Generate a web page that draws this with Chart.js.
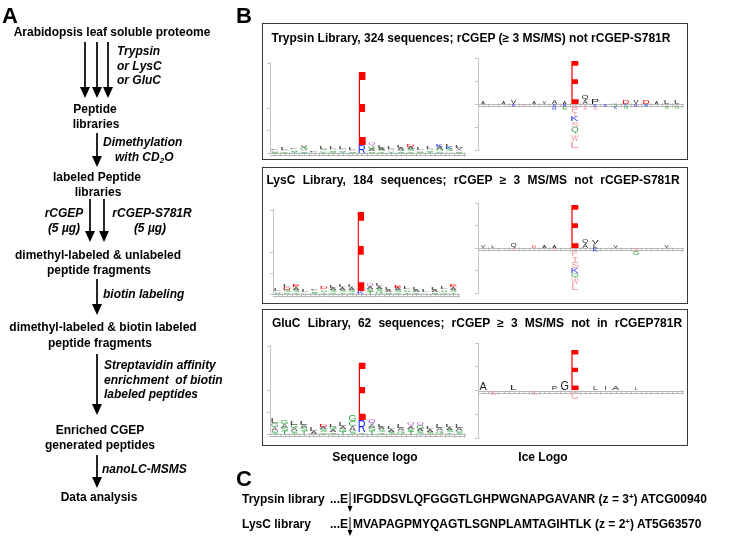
<!DOCTYPE html>
<html>
<head>
<meta charset="utf-8">
<script src="https://cdn.jsdelivr.net/npm/chart.js@4.4.1/dist/chart.umd.min.js"></script>
<style>
  body { margin: 0; background: #fff; }
  #fig { position: relative; width: 731px; height: 540px; overflow: hidden;
         font-family: "Liberation Sans", Arial, sans-serif; font-weight: bold; font-size: 12px; color: #000; }
  .t { position: absolute; white-space: nowrap; line-height: 14px; }
  .c { transform: translateX(-50%); }
  .i { font-style: italic; }
  .lab { font-size: 22px; line-height: 22px; }
  .box { position: absolute; border: 1.5px solid #3a3a3a; box-sizing: border-box; }
  canvas { position: absolute; }
  sub { font-size: 8px; vertical-align: -2px; line-height: 0; }
  sup { font-size: 8px; vertical-align: 4px; line-height: 0; }
</style>
</head>
<body>
<div id="fig">
  <canvas id="arrows" width="731" height="540" style="left:0;top:0"></canvas>

  <!-- panel A -->
  <div class="t lab" style="left:2px;top:5px">A</div>
  <div class="t c" style="left:112px;top:25px">Arabidopsis leaf soluble proteome</div>
  <div class="t i" style="left:117px;top:44px">Trypsin</div>
  <div class="t i" style="left:117px;top:59px">or LysC</div>
  <div class="t i" style="left:117px;top:73px">or GluC</div>
  <div class="t c" style="left:95px;top:102px">Peptide</div>
  <div class="t c" style="left:96px;top:117px">libraries</div>
  <div class="t i" style="left:103px;top:135px">Dimethylation</div>
  <div class="t i" style="left:115px;top:150px">with CD<sub>2</sub>O</div>
  <div class="t c" style="left:97px;top:170px">labeled Peptide</div>
  <div class="t c" style="left:98px;top:185px">libraries</div>
  <div class="t i c" style="left:64px;top:206px">rCGEP</div>
  <div class="t i c" style="left:64px;top:221px">(5 µg)</div>
  <div class="t i c" style="left:152px;top:206px">rCGEP-S781R</div>
  <div class="t i c" style="left:150px;top:221px">(5 µg)</div>
  <div class="t c" style="left:98px;top:248px">dimethyl-labeled &amp; unlabeled</div>
  <div class="t c" style="left:99px;top:263px">peptide fragments</div>
  <div class="t i" style="left:103px;top:287px">biotin labeling</div>
  <div class="t c" style="left:103px;top:320px">dimethyl-labeled &amp; biotin labeled</div>
  <div class="t c" style="left:100px;top:336px">peptide fragments</div>
  <div class="t i" style="left:104px;top:358px">Streptavidin affinity</div>
  <div class="t i" style="left:104px;top:373px">enrichment&nbsp; of biotin</div>
  <div class="t i" style="left:104px;top:387px">labeled peptides</div>
  <div class="t c" style="left:100px;top:423px">Enriched CGEP</div>
  <div class="t c" style="left:100px;top:438px">generated peptides</div>
  <div class="t i" style="left:102px;top:462px">nanoLC-MSMS</div>
  <div class="t c" style="left:99px;top:490px">Data analysis</div>

  <!-- panel B -->
  <div class="t lab" style="left:236px;top:5px">B</div>
  <div class="box" style="left:262px;top:23px;width:426px;height:137px"></div>
  <div class="box" style="left:262px;top:167px;width:426px;height:137px"></div>
  <div class="box" style="left:262px;top:309px;width:426px;height:137px"></div>
  <div class="t c" style="left:471px;top:31px">Trypsin Library, 324 sequences; rCGEP (≥ 3 MS/MS) not rCGEP-S781R</div>
  <div class="t c" style="left:473px;top:173px;word-spacing:4px">LysC Library, 184 sequences; rCGEP ≥ 3 MS/MS not rCGEP-S781R</div>
  <div class="t c" style="left:477px;top:316px;word-spacing:3.8px">GluC Library, 62 sequences; rCGEP ≥ 3 MS/MS not in rCGEP781R</div>
  <canvas id="seq1"></canvas><canvas id="ice1"></canvas>
  <canvas id="seq2"></canvas><canvas id="ice2"></canvas>
  <canvas id="seq3"></canvas><canvas id="ice3"></canvas>
  <div class="t c" style="left:375px;top:450px">Sequence logo</div>
  <div class="t c" style="left:543px;top:450px">Ice Logo</div>

  <!-- panel C -->
  <div class="t lab" style="left:236px;top:468px">C</div>
  <div class="t" style="left:242px;top:492px">Trypsin library</div>
  <div class="t" style="right:383px;top:492px">...E</div>
  <div class="t" style="left:353px;top:492px">IFGDDSVLQFGGGTLGHPWGNAPGAVANR (z = 3<sup>+</sup>) ATCG00940</div>
  <div class="t" style="left:242px;top:517px">LysC library</div>
  <div class="t" style="right:383px;top:517px">...E</div>
  <div class="t" style="left:353px;top:517px">MVAPAGPMYQAGTLSGNPLAMTAGIHTLK (z = 2<sup>+</sup>) AT5G63570</div>
</div>

<script>
// positions P10 ... P10' around the cleavage site
const positions = ["P10","P9","P8","P7","P6","P5","P4","P3","P2","P1",
                   "P1'","P2'","P3'","P4'","P5'","P6'","P7'","P8'","P9'","P10'"];

// sequence logos: letters bottom -> top, heights in bits
const trypsinSeqLetters = ["SAL","GAL","TSAL","SAGV","AL","TASL","GSAL","TSAL","SAL","RE",
                           "SAGQ","GSAL","TAVL","SGAL","GSAD","SAL","TGAL","SGAK","ASKL","SAVL"];
const trypsinSeqBits = [[.06,.06,.06],[.07,.07,.08],[.05,.05,.06,.07],[.07,.07,.08,.1],[.06,.07],
                        [.06,.06,.07,.08],[.06,.06,.07,.08],[.06,.06,.07,.08],[.07,.07,.08],[.36,3.29],
                        [.1,.1,.12,.16],[.07,.08,.09,.12],[.06,.06,.07,.08],[.07,.07,.08,.09],[.08,.08,.09,.1],
                        [.06,.07,.08],[.06,.06,.07,.08],[.08,.08,.09,.1],[.08,.08,.09,.1],[.07,.07,.08,.09]];

const lysCSeqLetters = ["SAL","GSDL","TSAE","AL","GSAL","TSAD","GSAL","TSAL","GSAL","KE",
                        "TSAQ","GSAL","SAL","GSAE","TSAL","GAL","AL","SAL","GSAL","TSAE"];
const lysCSeqBits = [[.07,.08,.09],[.1,.1,.11,.12],[.1,.1,.11,.12],[.09,.1],[.07,.07,.07,.08],
                     [.08,.08,.08,.09],[.09,.09,.1,.1],[.1,.1,.11,.12],[.1,.1,.11,.12],[.14,3.81],
                     [.11,.12,.12,.13],[.12,.13,.13,.14],[.09,.1,.1],[.09,.09,.1,.1],[.08,.08,.08,.09],
                     [.1,.11,.12],[.09,.1],[.09,.1,.1],[.08,.08,.08,.09],[.1,.1,.11,.12]];

const gluCSeqLetters = ["SAGL","TSAG","SAGL","TSAL","AL","GSAD","SAGL","TGAL","SACG","GRE",
                        "TSAQ","GSAL","SAL","GAL","TSAQ","SAGQ","SAL","GAL","TSAL","SAL"];
const gluCSeqBits = [[.15,.16,.17,.2],[.14,.15,.16,.19],[.13,.14,.15,.17],[.13,.14,.15,.17],[.13,.14],
                     [.1,.11,.11,.13],[.1,.11,.11,.13],[.11,.12,.13,.14],[.15,.2,.22,.29],[.09,.55,2.64],
                     [.14,.15,.16,.18],[.1,.11,.11,.13],[.11,.12,.13],[.13,.14,.14],[.11,.12,.13,.14],
                     [.12,.13,.14,.16],[.11,.12,.13],[.13,.14,.14],[.1,.1,.1,.11],[.13,.14,.14]];
const seqTicks = [0, 1, 2, 4];

// ice logos: over-represented (up) and under-represented (down), percent
const trypsinIceUp = ["A","","A","V","","A","V","A","A","E","AQ","P","","","D","V","D","A","L","L"];
const trypsinIceUpPct = [[6],[],[6],[8],[],[6],[6],[8],[6],[98],[8,10],[12],[],[],[10],[8],[10],[6],[10],[10]];
const trypsinIceDown = ["","","","K","S","","","KR","RN","DPTKSQWL","LS","KS","K","NK","KN","K","R","","DN","DN"];
const trypsinIceDownPct = [[],[],[],[-6],[-6],[],[],[-6,-6],[-6,-6],[-8,-10,-8,-12,-12,-15,-15,-15],
                           [-6,-6],[-6,-6],[-6],[-5,-5],[-5,-5],[-6],[-6],[],[-5,-5],[-5,-5]];

const lysCIceUp = ["V","L","","Q","","D","A","A","","E","AQ","LV","","V","","","","","V",""];
const lysCIceUpPct = [[7],[7],[],[10],[],[6],[7],[7],[],[100],[9,9],[9,9],[],[7],[],[],[],[],[7],[]];
const lysCIceDown = ["","","","D","","","","D","","DFTSKQWL","","K","","","","DG","","","",""];
const lysCIceDownPct = [[],[],[],[-6],[],[],[],[-6],[],[-8,-10,-12,-14,-11,-12,-13,-13],
                        [],[-8],[],[],[],[-8,-8],[],[],[],[]];

const gluCIceUp = ["A","","","L","","","","P","G","E","","L","I","A","","L","","","",""];
const gluCIceUpPct = [[17],[],[],[12],[],[],[],[8],[19],[85],[],[8],[8],[10],[],[6],[],[],[],[]];
const gluCIceDown = ["","S","","","","S","","","","C","","","","","","","","","",""];
const gluCIceDownPct = [[],[-10],[],[],[],[-10],[],[],[],[-17],[],[],[],[],[],[],[],[],[],[]];
const iceTicks = [-100, -50, 0, 50, 100];

// where each plot area sits on the page
const areas = {
  seq1: { left: 270, right: 464, top: 62, bottom: 153 },
  seq2: { left: 273, right: 458, top: 209, bottom: 294 },
  seq3: { left: 270, right: 464, top: 345, bottom: 434 },
  ice1: { left: 478, right: 682, top: 58, bottom: 150 },
  ice2: { left: 478, right: 682, top: 203, bottom: 293 },
  ice3: { left: 478, right: 682, top: 343, bottom: 438 }
};

function seqColor(L) {
  if ("DE".includes(L)) return "#ff0000";
  if ("KRH".includes(L)) return "#1a2cf0";
  if ("GSTYC".includes(L)) return "#2fa53f";
  if ("NQ".includes(L)) return "#b04cc0";
  return "#555";
}
function iceColor(L, down) {
  if (!down) return "DE".includes(L) ? "#ff0000" : "#222";
  if ("KRH".includes(L)) return "#2d3cf0";
  if ("NGQ".includes(L)) return "#38a844";
  return "#f59aa5";
}

// draw every bar as its letter, stretched into the bar box
// maxAspect limits horizontal stretch (ice logos keep near-natural letter shapes)
function letterPlugin(colorFn, maxAspect) {
  return {
    id: "letters",
    afterDatasetsDraw(chart) {
      const ctx = chart.ctx;
      ctx.save();
      ctx.font = "40px 'Liberation Sans', Arial, sans-serif";
      chart.data.datasets.forEach((ds, di) => {
        const meta = chart.getDatasetMeta(di);
        meta.data.forEach((bar, j) => {
          const L = ds.letters[j];
          if (!L) return;
          const { x, y, base, width } = bar.getProps(["x", "y", "base", "width"], true);
          const h = Math.abs(base - y);
          if (h < 0.5) return;
          const m = ctx.measureText(L);
          const gw = m.actualBoundingBoxLeft + m.actualBoundingBoxRight;
          const gh = m.actualBoundingBoxAscent + m.actualBoundingBoxDescent;
          const sy = h / gh;
          const sx = Math.min(width / gw, sy * maxAspect);
          ctx.save();
          ctx.translate(x - gw * sx / 2, Math.min(y, base));
          ctx.scale(sx, sy);
          ctx.fillStyle = colorFn(L, ds.down);
          ctx.fillText(L, m.actualBoundingBoxLeft, m.actualBoundingBoxAscent);
          ctx.restore();
        });
      });
      ctx.restore();
    }
  };
}

// ruler-like x axis drawn at value 0
const rulerPlugin = {
  id: "ruler",
  beforeDatasetsDraw(chart) {
    const { ctx, chartArea, scales } = chart;
    const y0 = Math.round(scales.y.getPixelForValue(0)) + 0.5;
    const half = (scales.x.getPixelForValue(1) - scales.x.getPixelForValue(0)) / 2;
    ctx.save();
    ctx.strokeStyle = "#b8b8b8";
    ctx.lineWidth = 1;
    ctx.beginPath();
    ctx.moveTo(chartArea.left, y0); ctx.lineTo(chartArea.right + 2, y0);
    ctx.moveTo(chartArea.left, y0 + 2); ctx.lineTo(chartArea.right + 2, y0 + 2);
    positions.forEach((p, i) => {
      const x = Math.round(scales.x.getPixelForValue(i)) + 0.5;
      ctx.moveTo(x, y0); ctx.lineTo(x, y0 + 2);
      const xe = Math.round(scales.x.getPixelForValue(i) + half) + 0.5;
      ctx.moveTo(xe, y0 - 1); ctx.lineTo(xe, y0 + 3);
    });
    ctx.stroke();
    ctx.restore();
  }
};

function layerSets(letters, values, down) {
  const n = Math.max(...values.map(v => v.length));
  const sets = [];
  for (let k = 0; k < n; k++) {
    sets.push({
      data: values.map(v => (v[k] === undefined ? null : v[k])),
      letters: letters.map(s => s[k] || ""),
      down: down,
      backgroundColor: "rgba(0,0,0,0)",
      borderWidth: 0,
      stack: "s",
      clip: false
    });
  }
  return sets;
}

function buildLogo(id, area, datasets, yMin, yMax, ticks, colorFn, maxAspect) {
  const pad = { left: 0, top: 4, right: 3, bottom: 5 };
  const axisW = 4;
  const cv = document.getElementById(id);
  cv.width = axisW + pad.left + pad.right + (area.right - area.left);
  cv.height = pad.top + pad.bottom + (area.bottom - area.top);
  cv.style.left = (area.left - axisW - pad.left) + "px";
  cv.style.top = (area.top - pad.top) + "px";
  return new Chart(cv, {
    type: "bar",
    data: { labels: positions, datasets: datasets },
    options: {
      responsive: false,
      animation: false,
      events: [],
      layout: { padding: pad },
      datasets: { bar: { categoryPercentage: 1, barPercentage: 0.72 } },
      scales: {
        x: { display: false, stacked: true },
        y: {
          stacked: true,
          min: yMin, max: yMax,
          afterFit: s => { s.width = axisW; },
          afterBuildTicks: s => { s.ticks = ticks.map(v => ({ value: v })); },
          ticks: { display: false },
          grid: { drawOnChartArea: false, tickLength: 3, color: "#c4c4c4" },
          border: { color: "#c4c4c4" }
        }
      },
      plugins: { legend: { display: false }, tooltip: { enabled: false } }
    },
    plugins: [rulerPlugin, letterPlugin(colorFn, maxAspect)]
  });
}

// flow arrows of panel A and cleavage marks of panel C
const actx = document.getElementById("arrows").getContext("2d");
function arrow(x, y1, y2, hw, hh, lw) {
  actx.lineWidth = lw;
  actx.beginPath();
  actx.moveTo(x, y1); actx.lineTo(x, y2 - hh + 1);
  actx.stroke();
  actx.beginPath();
  actx.moveTo(x - hw / 2, y2 - hh); actx.lineTo(x + hw / 2, y2 - hh); actx.lineTo(x, y2);
  actx.closePath();
  actx.fill();
}
actx.fillStyle = "#000";
actx.strokeStyle = "#000";
[[85, 42, 98], [97, 42, 98], [108, 42, 98], [97, 133, 167], [90, 199, 242], [104, 199, 242],
 [97, 279, 315], [97, 354, 415], [97, 455, 488]].forEach(a => arrow(a[0], a[1], a[2], 10, 11, 1.7));
arrow(350, 492, 512, 5, 6, 1);
arrow(350, 517, 536, 5, 6, 1);

buildLogo("seq1", areas.seq1, layerSets(trypsinSeqLetters, trypsinSeqBits, false), 0, 4.05, seqTicks, seqColor, 99);
buildLogo("seq2", areas.seq2, layerSets(lysCSeqLetters, lysCSeqBits, false), 0, 4.05, seqTicks, seqColor, 99);
buildLogo("seq3", areas.seq3, layerSets(gluCSeqLetters, gluCSeqBits, false), 0, 4.05, seqTicks, seqColor, 99);
buildLogo("ice1", areas.ice1, layerSets(trypsinIceUp, trypsinIceUpPct, false)
  .concat(layerSets(trypsinIceDown, trypsinIceDownPct, true)), -100, 100, iceTicks, iceColor, 1.7);
buildLogo("ice2", areas.ice2, layerSets(lysCIceUp, lysCIceUpPct, false)
  .concat(layerSets(lysCIceDown, lysCIceDownPct, true)), -100, 100, iceTicks, iceColor, 1.7);
buildLogo("ice3", areas.ice3, layerSets(gluCIceUp, gluCIceUpPct, false)
  .concat(layerSets(gluCIceDown, gluCIceDownPct, true)), -100, 100, iceTicks, iceColor, 1.7);
</script>
</body>
</html>
